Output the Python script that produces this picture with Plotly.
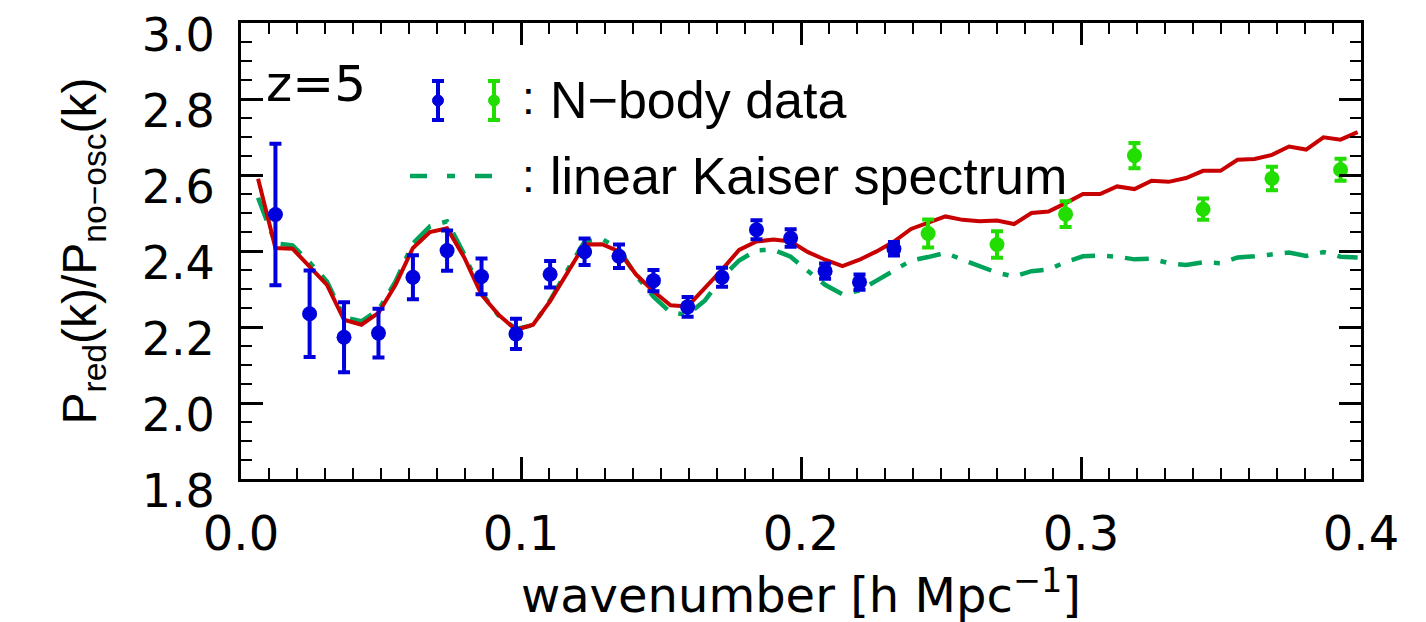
import plotly.graph_objects as go

# ---- data ----
k_blue = [0.0123, 0.0245, 0.0368, 0.0491, 0.0614, 0.0736, 0.0859, 0.0982, 0.1104, 0.1227,
          0.1350, 0.1473, 0.1595, 0.1718, 0.1841, 0.1963, 0.2086, 0.2209, 0.2332]
ratio_blue = [2.496, 2.235, 2.173, 2.184, 2.331, 2.401, 2.333, 2.182, 2.339, 2.398,
              2.386, 2.322, 2.253, 2.331, 2.456, 2.434, 2.347, 2.318, 2.406]
err_blue = [0.186, 0.114, 0.092, 0.064, 0.058, 0.053, 0.047, 0.040, 0.035, 0.035,
            0.031, 0.028, 0.026, 0.025, 0.025, 0.023, 0.020, 0.020, 0.018]

k_green = [0.2454, 0.2700, 0.2945, 0.3191, 0.3436, 0.3682, 0.3927]
ratio_green = [2.446, 2.417, 2.497, 2.651, 2.510, 2.591, 2.614]
err_green = [0.037, 0.035, 0.034, 0.033, 0.028, 0.031, 0.029]

k_curve = [0.0061, 0.0123, 0.0184, 0.0245, 0.0307, 0.0368, 0.0430, 0.0491, 0.0552, 0.0614,
           0.0675, 0.0736, 0.0798, 0.0859, 0.0920, 0.0982, 0.1043, 0.1104, 0.1166, 0.1227,
           0.1289, 0.1350, 0.1411, 0.1473, 0.1534, 0.1595, 0.1657, 0.1718, 0.1779, 0.1841,
           0.1902, 0.1963, 0.2025, 0.2086, 0.2148, 0.2209, 0.2270, 0.2332, 0.2393, 0.2454,
           0.2516, 0.2577, 0.2638, 0.2700, 0.2761, 0.2823, 0.2884, 0.2945, 0.3007, 0.3068,
           0.3129, 0.3191, 0.3252, 0.3313, 0.3375, 0.3436, 0.3498, 0.3559, 0.3620, 0.3682,
           0.3743, 0.3804, 0.3866, 0.3927, 0.3988]
ratio_model = [2.590, 2.408, 2.406, 2.360, 2.311, 2.219, 2.206, 2.237, 2.311, 2.408,
               2.450, 2.460, 2.382, 2.285, 2.232, 2.193, 2.206, 2.268, 2.342, 2.417,
               2.418, 2.399, 2.338, 2.294, 2.257, 2.254, 2.303, 2.351, 2.403, 2.425,
               2.430, 2.425, 2.397, 2.377, 2.360, 2.377, 2.399, 2.425, 2.458, 2.474,
               2.491, 2.482, 2.478, 2.480, 2.471, 2.500, 2.504, 2.526, 2.550, 2.550,
               2.570, 2.563, 2.585, 2.582, 2.592, 2.611, 2.611, 2.640, 2.642, 2.653,
               2.675, 2.667, 2.699, 2.693, 2.713]
ratio_kaiser = [2.540, 2.420, 2.415, 2.370, 2.320, 2.225, 2.215, 2.245, 2.320, 2.420,
                2.465, 2.478, 2.390, 2.290, 2.230, 2.195, 2.205, 2.270, 2.350, 2.425,
                2.432, 2.405, 2.335, 2.280, 2.238, 2.232, 2.270, 2.330, 2.375, 2.402,
                2.403, 2.385, 2.347, 2.311, 2.286, 2.296, 2.322, 2.350, 2.375, 2.384,
                2.395, 2.377, 2.360, 2.343, 2.333, 2.347, 2.351, 2.371, 2.386, 2.388,
                2.385, 2.378, 2.380, 2.368, 2.363, 2.370, 2.368, 2.383, 2.386, 2.390,
                2.396, 2.387, 2.397, 2.385, 2.383]

x_ticks = [0.0, 0.1, 0.2, 0.3, 0.4]
y_ticks = [1.8, 2.0, 2.2, 2.4, 2.6, 2.8, 3.0]

BLUE = "rgb(0,0,220)"
LGREEN = "rgb(34,221,0)"
KGREEN = "rgb(0,163,90)"
RED = "rgb(200,0,0)"
FONT = "Liberation Sans, Arial, sans-serif"
WFONT = "DejaVu Sans, sans-serif"
DASHDOT = "24px,12px,6px,12px"

fig = go.Figure()
fig.add_trace(go.Scatter(x=k_curve, y=ratio_kaiser, mode="lines",
                         line=dict(color=KGREEN, width=4.5, dash=DASHDOT),
                         name="linear Kaiser spectrum", showlegend=False))
fig.add_trace(go.Scatter(x=k_curve, y=ratio_model, mode="lines",
                         line=dict(color=RED, width=4),
                         name="model", showlegend=False))
fig.add_trace(go.Scatter(x=k_blue, y=ratio_blue, mode="markers",
                         marker=dict(color=BLUE, size=15),
                         error_y=dict(type="data", array=err_blue, color=BLUE,
                                      thickness=4, width=6),
                         name="N-body data", showlegend=False))
fig.add_trace(go.Scatter(x=k_green, y=ratio_green, mode="markers",
                         marker=dict(color=LGREEN, size=15),
                         error_y=dict(type="data", array=err_green, color=LGREEN,
                                      thickness=4, width=6),
                         name="N-body data", showlegend=False))

L, R, T, B = 233, 73, 15, 151
W, H = 1426, 622
pw, ph = W - L - R, H - T - B


def px(xp):
    return (xp - L) / pw


def py(yp):
    return (H - B - yp) / ph


shapes = []
# legend error-bar symbols
for xc, col in [(430, BLUE), (486, LGREEN)]:
    shapes.append(dict(type="line", xref="paper", yref="paper", x0=px(xc), x1=px(xc),
                       y0=py(73), y1=py(112), line=dict(color=col, width=4)))
    for yc in (73, 112):
        shapes.append(dict(type="line", xref="paper", yref="paper", x0=px(xc - 6), x1=px(xc + 6),
                           y0=py(yc), y1=py(yc), line=dict(color=col, width=4)))
    shapes.append(dict(type="circle", xref="paper", yref="paper", x0=px(xc - 5.5), x1=px(xc + 5.5),
                       y0=py(98), y1=py(87), fillcolor=col, line=dict(color=col, width=1)))
shapes.append(dict(type="line", xref="paper", yref="paper", x0=px(402), x1=px(503),
                   y0=py(168), y1=py(168), line=dict(color=KGREEN, width=4.5, dash="17px,20px,8px,20px")))

annotations = [
    dict(text="z=5", xref="paper", yref="paper", x=px(256), y=py(76), xanchor="left", yanchor="middle",
         showarrow=False, font=dict(size=50, color="black", family=WFONT)),
    dict(text=":", xref="paper", yref="paper", x=px(520), y=py(90), xanchor="center", yanchor="middle",
         showarrow=False, font=dict(size=46, color="black", family=FONT)),
    dict(text="N\u2212body data", xref="paper", yref="paper", x=px(540), y=py(92), xanchor="left",
         yanchor="middle", showarrow=False, font=dict(size=52, color="black", family=FONT)),
    dict(text=":", xref="paper", yref="paper", x=px(520), y=py(168), xanchor="center", yanchor="middle",
         showarrow=False, font=dict(size=46, color="black", family=FONT)),
    dict(text="linear Kaiser spectrum", xref="paper", yref="paper", x=px(540), y=py(168), xanchor="left",
         yanchor="middle", showarrow=False, font=dict(size=52, color="black", family=FONT)),
]

axis_common = dict(showgrid=False, zeroline=False, showline=True, linecolor="black", linewidth=3,
                   mirror="allticks", ticks="inside", ticklen=22, tickwidth=2.5, tickcolor="black",
                   tickformat=".1f", ticklabeloverflow="allow")

fig.update_layout(
    width=W, height=H, margin=dict(l=L, r=R, t=T, b=B, autoexpand=False),
    paper_bgcolor="white", plot_bgcolor="white",
    font=dict(family=FONT, color="black"),
    shapes=shapes, annotations=annotations, showlegend=False,
    xaxis=dict(range=[0.0, 0.4], tickvals=x_ticks,
               minor=dict(dtick=0.01, ticks="inside", ticklen=11, tickwidth=2, tickcolor="black"),
               tickfont=dict(size=48, family=WFONT), ticklabelstandoff=10,
               title=dict(text="wavenumber [h Mpc<sup>\u22121</sup>]", font=dict(size=48, family=WFONT),
                          standoff=0),
               **axis_common),
    yaxis=dict(range=[1.8, 3.0], tickvals=y_ticks,
               minor=dict(dtick=0.05, ticks="inside", ticklen=11, tickwidth=2, tickcolor="black"),
               tickfont=dict(size=46, family=WFONT), ticklabelstandoff=14, ticklabelshift=12,
               title=dict(text="P<sub>red</sub>(k)/P<sub>no\u2212osc</sub>(k)", font=dict(size=48, family=FONT),
                          standoff=30),
               **axis_common),
)

fig.write_html("out.html")
